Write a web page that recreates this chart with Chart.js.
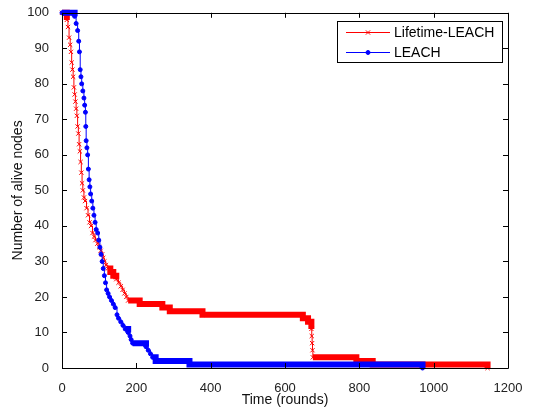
<!DOCTYPE html>
<html><head><meta charset="utf-8">
<script src="https://cdn.jsdelivr.net/npm/chart.js@4"></script>
<style>html,body{margin:0;padding:0;background:#fff}#wrap{width:533px;height:410px;position:relative}</style>
</head><body><div id="wrap"><canvas id="c" width="533" height="410"></canvas></div>
<script>
const seriesNames = ['Lifetime-LEACH', 'LEACH'];
const xTitle = 'Time (rounds)';
const yTitle = 'Number of alive nodes';
const xTickValues = [0, 200, 400, 600, 800, 1000, 1200];
const yTickValues = [0, 10, 20, 30, 40, 50, 60, 70, 80, 90, 100];

const lifetimeRounds = [0, 13, 16, 19, 22, 24, 26, 28, 30, 32, 34, 36, 38, 40, 42, 44, 46, 48, 50, 52, 54, 56, 59, 62, 66, 70, 74, 78, 82, 86, 90, 95, 100, 104, 108, 111, 114, 118, 123, 130, 138, 146, 152, 158, 163, 168, 173, 178, 209, 270, 290, 378, 648, 662, 671, 672, 673, 674, 675, 792, 836, 1145];
const lifetimeAlive  = [100, 98, 96, 93, 91, 89, 86, 84, 82, 79, 77, 75, 73, 71, 68, 66, 63, 61, 58, 55, 52, 50, 48, 47, 45, 43, 41, 40, 38, 37, 36, 35, 34, 33, 32, 31, 30, 29, 28, 27, 26, 25, 24, 23, 22, 21, 20, 19, 18, 17, 16, 15, 14, 13, 11, 9, 7, 5, 3, 2, 1, 0];

const leachRounds = [0, 34, 38, 42, 45, 47, 49, 51, 53, 56, 59, 61, 63, 64, 65, 67, 69, 71, 73, 75, 77, 80, 83, 86, 89, 92, 96, 99, 102, 105, 108, 111, 114, 117, 120, 124, 128, 133, 138, 143, 148, 152, 158, 164, 170, 178, 183, 186, 190, 226, 232, 238, 244, 252, 343, 970];
const leachAlive  = [100, 99, 97, 95, 92, 89, 84, 82, 80, 78, 76, 74, 72, 68, 64, 62, 60, 56, 53, 51, 49, 47, 45, 43, 41, 39, 38, 36, 34, 32, 30, 28, 26, 24, 22, 21, 20, 19, 18, 17, 15, 14, 13, 12, 11, 10, 9, 8, 7, 6, 5, 4, 3, 2, 1, 0];

const RED = '#ff0000', BLUE = '#0000ff';
const FAMILY = "'Liberation Sans', Arial, sans-serif";
const TICK_FONT = {family: FAMILY, size: 13};
const TITLE_FONT = {family: FAMILY, size: 14};

function toPoints(xs, ys) { return xs.map((x, i) => ({x: x, y: ys[i]})); }
const bandWidth = ctx => (ctx.p1.parsed.x - ctx.p0.parsed.x > 6 ? 6 : 1);

const boxPlugin = {
  id: 'box',
  afterDatasetsDraw(chart) {
    const {ctx, chartArea: a, scales: {x, y}} = chart;
    ctx.save();
    ctx.strokeStyle = '#000';
    ctx.lineWidth = 1;
    ctx.beginPath();
    ctx.rect(Math.round(a.left) + 0.5, Math.round(a.top) + 0.5, Math.round(a.right - a.left), Math.round(a.bottom - a.top));
    ctx.stroke();
    const L = 5;
    ctx.beginPath();
    xTickValues.forEach(v => {
      const px = Math.round(x.getPixelForValue(v)) + 0.5;
      ctx.moveTo(px, a.bottom); ctx.lineTo(px, a.bottom - L);
      ctx.moveTo(px, a.top); ctx.lineTo(px, a.top + L);
    });
    yTickValues.forEach(v => {
      const py = Math.round(y.getPixelForValue(v)) + 0.5;
      ctx.moveTo(a.left, py); ctx.lineTo(a.left + L, py);
      ctx.moveTo(a.right, py); ctx.lineTo(a.right - L, py);
    });
    ctx.stroke();

    // legend
    const bx = 337.5, by = 21.5, bw = 165, bh = 41;
    ctx.fillStyle = '#fff';
    ctx.fillRect(bx, by, bw, bh);
    ctx.strokeRect(bx, by, bw, bh);
    const rows = [{y: 32, c: RED, s: 'crossRot', r: 3}, {y: 52, c: BLUE, s: 'circle', r: 2}];
    rows.forEach((r, i) => {
      ctx.strokeStyle = r.c; ctx.lineWidth = 1;
      ctx.beginPath(); ctx.moveTo(346, r.y + 0.5); ctx.lineTo(390, r.y + 0.5); ctx.stroke();
      ctx.fillStyle = r.c;
      Chart.helpers.drawPoint(ctx, {pointStyle: r.s, radius: r.r, borderWidth: 1}, 368, r.y + 0.5);
      ctx.fillStyle = '#000';
      ctx.font = "14px " + FAMILY;
      ctx.textBaseline = 'middle';
      ctx.fillText(seriesNames[i], 394, r.y + 1);
    });
    ctx.restore();
  }
};

new Chart(document.getElementById('c'), {
  type: 'line',
  data: {
    datasets: [
      {
        label: seriesNames[0], data: toPoints(lifetimeRounds, lifetimeAlive),
        borderColor: RED, backgroundColor: RED, borderWidth: 1, stepped: 'before',
        pointStyle: 'crossRot', pointRadius: 3, pointBorderWidth: 1, pointBorderColor: RED,
        segment: {borderWidth: bandWidth}, clip: false, order: 1, fill: false
      },
      {
        label: seriesNames[1], data: toPoints(leachRounds, leachAlive),
        borderColor: BLUE, backgroundColor: BLUE, borderWidth: 1, stepped: 'before',
        pointStyle: 'circle', pointRadius: 2, pointBorderWidth: 1, pointBorderColor: BLUE,
        segment: {borderWidth: bandWidth}, clip: false, order: 0, fill: false
      }
    ]
  },
  options: {
    responsive: false, animation: false,
    layout: {padding: {left: 0, top: 12, right: 25, bottom: 0}},
    plugins: {legend: {display: false}, tooltip: {enabled: false}},
    scales: {
      x: {
        type: 'linear', min: 0, max: 1200,
        afterBuildTicks: s => { s.ticks = xTickValues.map(v => ({value: v})); },
        afterFit: s => { s.height = 42; },
        grid: {display: false}, border: {display: false},
        ticks: {color: '#222', font: TICK_FONT, padding: 5, maxRotation: 0, autoSkip: false, callback: v => String(v)},
        title: {display: true, text: xTitle, color: '#111', font: TITLE_FONT, padding: {top: 0, bottom: 1}}
      },
      y: {
        type: 'linear', min: 0, max: 100,
        afterBuildTicks: s => { s.ticks = yTickValues.map(v => ({value: v})); },
        afterFit: s => { s.width = 62; },
        grid: {display: false}, border: {display: false},
        ticks: {color: '#222', font: TICK_FONT, padding: 5, autoSkip: false, callback: v => String(v)},
        title: {display: true, text: yTitle, color: '#111', font: TITLE_FONT, padding: {top: 10, bottom: 0}}
      }
    }
  },
  plugins: [boxPlugin]
});
</script>
</body></html>
